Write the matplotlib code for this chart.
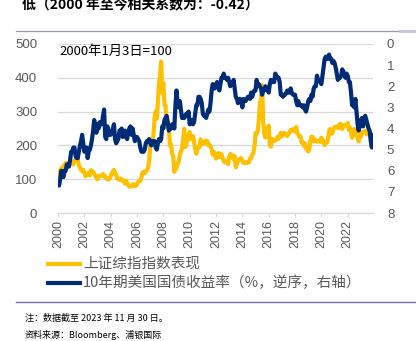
import numpy as np
import matplotlib
matplotlib.use("Agg")
import matplotlib.pyplot as plt
from matplotlib.lines import Line2D

plt.rcParams['font.family'] = ['Noto Sans CJK SC', 'DejaVu Sans']

W, H = 416, 341

# Shanghai Composite, month-end closes, 2000-01 .. 2023-11
sse_close = [
    1534, 1715, 1800, 1836, 1894, 1928, 2023, 2021, 1910, 1961, 2070, 2073,
    2065, 1960, 2112, 2119, 2215, 2218, 1920, 1834, 1752, 1690, 1747, 1646,
    1491, 1524, 1594, 1627, 1515, 1733, 1652, 1669, 1581, 1508, 1445, 1358,
    1499, 1511, 1511, 1521, 1577, 1487, 1477, 1421, 1367, 1349, 1398, 1497,
    1590, 1675, 1742, 1595, 1555, 1400, 1386, 1342, 1396, 1320, 1340, 1266,
    1191, 1306, 1181, 1159, 1060, 1080, 1083, 1162, 1155, 1092, 1099, 1161,
    1258, 1299, 1298, 1440, 1641, 1672, 1612, 1658, 1752, 1837, 2099, 2675,
    2786, 2881, 3183, 3841, 4109, 3820, 4471, 5218, 5552, 6124, 4871, 5262,
    4383, 4348, 3473, 3693, 3433, 2736, 2775, 2397, 2293, 1664, 1871, 1821,
    1990, 2082, 2373, 2477, 2633, 2959, 3412, 2667, 2779, 2996, 3195, 3277,
    2989, 3051, 3110, 2870, 2592, 2398, 2638, 2638, 2656, 2979, 2820, 2808,
    2790, 2905, 2928, 2911, 2743, 2762, 2701, 2568, 2359, 2469, 2333, 2199,
    2293, 2429, 2263, 2397, 2373, 2225, 2103, 2047, 2086, 2069, 1980, 2269,
    2385, 2366, 2237, 2178, 2301, 1849, 1994, 2098, 2175, 2141, 2221, 2116,
    2033, 2056, 2033, 2026, 2039, 2048, 2202, 2217, 2364, 2420, 2683, 3235,
    3210, 3310, 3748, 4442, 4612, 5178, 3664, 3206, 3053, 3383, 3446, 3539,
    2738, 2688, 3004, 2938, 2917, 2930, 2979, 3085, 3005, 3100, 3250, 3104,
    3159, 3242, 3223, 3155, 3117, 3192, 3273, 3361, 3349, 3393, 3317, 3307,
    3481, 3259, 3169, 3082, 3095, 2847, 2876, 2725, 2821, 2603, 2588, 2494,
    2585, 2941, 3091, 3078, 2899, 2979, 2933, 2886, 2905, 2929, 2872, 3050,
    2977, 2880, 2750, 2860, 2852, 2985, 3310, 3396, 3218, 3225, 3392, 3473,
    3483, 3509, 3441, 3447, 3615, 3591, 3397, 3544, 3568, 3547, 3564, 3640,
    3361, 3463, 3252, 3047, 3186, 3399, 3253, 3202, 3024, 2893, 3151, 3089,
    3255, 3280, 3273, 3323, 3205, 3202, 3291, 3120, 3110, 3019, 3030,
]
sse_base = 1368  # close on 2000-01-03 -> 100

# US 10Y treasury yield (%), month-end, 2000-01 .. 2023-11
ust10y = [
    6.7, 6.4, 6.0, 6.2, 6.3, 6.0, 6.0, 5.7, 5.8, 5.8, 5.5, 5.1,
    5.1, 4.9, 4.9, 5.3, 5.4, 5.4, 5.1, 4.8, 4.6, 4.3, 4.7, 5.1,
    5.0, 4.9, 5.4, 5.1, 5.0, 4.8, 4.5, 4.1, 3.6, 3.9, 4.2, 3.8,
    4.0, 3.7, 3.8, 3.8, 3.4, 3.1, 4.4, 4.5, 3.9, 4.3, 4.3, 4.3,
    4.1, 4.0, 3.8, 4.5, 4.7, 4.6, 4.5, 4.1, 4.1, 4.0, 4.4, 4.2,
    4.1, 4.4, 4.5, 4.2, 4.0, 3.9, 4.3, 4.0, 4.3, 4.6, 4.5, 4.4,
    4.5, 4.6, 4.9, 5.1, 5.1, 5.1, 5.0, 4.7, 4.6, 4.6, 4.5, 4.7,
    4.8, 4.6, 4.6, 4.6, 4.9, 5.0, 4.7, 4.5, 4.6, 4.5, 3.9, 4.0,
    3.6, 3.5, 3.4, 3.7, 4.1, 4.0, 4.0, 3.8, 3.8, 4.0, 2.9, 2.2,
    2.8, 3.0, 2.7, 3.1, 3.5, 3.5, 3.5, 3.4, 3.3, 3.4, 3.2, 3.8,
    3.6, 3.6, 3.8, 3.7, 3.3, 2.9, 2.9, 2.5, 2.5, 2.6, 2.8, 3.3,
    3.4, 3.4, 3.5, 3.3, 3.1, 3.2, 2.8, 2.2, 1.9, 2.1, 2.1, 1.9,
    1.8, 2.0, 2.2, 1.9, 1.6, 1.6, 1.4, 1.6, 1.6, 1.7, 1.6, 1.8,
    2.0, 1.9, 1.9, 1.7, 2.1, 2.5, 2.6, 2.8, 2.6, 2.6, 2.7, 3.0,
    2.6, 2.7, 2.7, 2.6, 2.5, 2.5, 2.6, 2.3, 2.5, 2.3, 2.2, 2.2,
    1.7, 2.0, 1.9, 2.0, 2.1, 2.4, 2.2, 2.2, 2.0, 2.1, 2.2, 2.3,
    1.9, 1.7, 1.8, 1.8, 1.8, 1.4, 1.5, 1.6, 1.6, 1.8, 2.4, 2.4,
    2.5, 2.4, 2.4, 2.3, 2.2, 2.3, 2.3, 2.1, 2.3, 2.4, 2.4, 2.4,
    2.7, 2.9, 2.7, 2.9, 2.9, 2.9, 3.0, 2.9, 3.1, 3.2, 3.0, 2.7,
    2.6, 2.7, 2.4, 2.5, 2.1, 2.0, 2.0, 1.5, 1.7, 1.7, 1.8, 1.9,
    1.5, 1.1, 0.7, 0.6, 0.7, 0.7, 0.5, 0.7, 0.7, 0.9, 0.8, 0.9,
    1.1, 1.4, 1.7, 1.6, 1.6, 1.5, 1.2, 1.3, 1.5, 1.6, 1.4, 1.5,
    1.8, 1.8, 2.3, 2.9, 2.8, 3.0, 2.6, 3.2, 3.8, 4.1, 3.6, 3.9,
    3.5, 3.9, 3.5, 3.4, 3.6, 3.8, 4.0, 4.1, 4.6, 4.9, 4.3,
]

year_ticks = list(range(2000, 2023, 2))

sse_idx = np.r_[100, np.array(sse_close) / sse_base * 100]
yld = np.r_[6.6, ust10y]
t = 2000 + np.arange(len(sse_idx)) / 12.0

YELLOW = '#FFC000'
NAVY = '#002C77'
GREY = '#595959'

fig = plt.figure(figsize=(W / 100, H / 100), dpi=100)


def fx(px):
    return px / W


def fy(py):
    return 1 - py / H


ax = fig.add_axes([fx(58), fy(213), fx(373) - fx(58), fy(44) - fy(213)])
ax2 = ax.twinx()

ax.plot(t, sse_idx, color=YELLOW, lw=3.0, solid_joinstyle='round', zorder=3)
ax2.plot(t, yld, color=NAVY, lw=3.0, solid_joinstyle='round', zorder=3)

ax.set_xlim(2000, 2023.92)
ax.set_ylim(0, 500)
ax2.set_ylim(8, 0)

ax.set_yticks(range(0, 501, 100))
ax2.set_yticks(range(0, 9))
ax.set_xticks(year_ticks)
ax.set_xticklabels([str(y) for y in year_ticks], rotation=90)

ax.yaxis.grid(True, color='#D9D9D9', lw=0.9)
ax.set_axisbelow(True)
for a in (ax, ax2):
    for s in a.spines.values():
        s.set_visible(False)
ax.spines['bottom'].set_visible(True)
ax.spines['bottom'].set_color('#D9D9D9')
ax.spines['bottom'].set_linewidth(0.9)

ax.tick_params(axis='x', length=3, colors=GREY, labelsize=9, pad=2)
ax.tick_params(axis='x', color='#D9D9D9')
ax.tick_params(axis='y', length=0, colors=GREY, labelsize=9.5, pad=15)
ax2.tick_params(axis='y', length=0, colors=GREY, labelsize=9.5, pad=10)
for lab in ax.get_xticklabels() + ax.get_yticklabels() + ax2.get_yticklabels():
    lab.set_family(['Liberation Sans', 'DejaVu Sans'])

ax.text(0.005, 0.955, '2000年1月3日=100', transform=ax.transAxes,
        fontsize=9.5, color='black', va='center', ha='left')

# heading cut off at the top edge
fig.text(fx(22), fy(4), '低（2000 年至今相关系数为：-0.42）', fontsize=10,
         fontweight='bold', color='black', va='center', ha='left')

# separator rules
fig.add_artist(Line2D([fx(16), fx(400)], [fy(31), fy(31)], color='#9A96B4', lw=0.9))
fig.add_artist(Line2D([fx(400), fx(416)], [fy(31), fy(31)], color='#C8C4E0', lw=2))
fig.add_artist(Line2D([fx(16), fx(416)], [fy(302), fy(302)], color='#7B6FAE', lw=1.0))

# legend
legend_items = [
    (YELLOW, '上证综指指数表现', 264),
    (NAVY, '10年期美国国债收益率（%，逆序，右轴）', 283),
]
for col, label, py in legend_items:
    fig.add_artist(Line2D([fx(48), fx(80)], [fy(py), fy(py)], color=col, lw=3.0))
    fig.text(fx(83), fy(py), label, fontsize=10.5, color=GREY, va='center', ha='left')

# footnotes
fig.text(fx(25), fy(318), '注：数据截至 2023 年 11 月 30 日。', fontsize=6.5,
         color='black', va='center', ha='left')
fig.text(fx(25), fy(335), '资料来源：Bloomberg、浦银国际', fontsize=6.5,
         color='black', va='center', ha='left')

fig.savefig('out.png', dpi=100)
